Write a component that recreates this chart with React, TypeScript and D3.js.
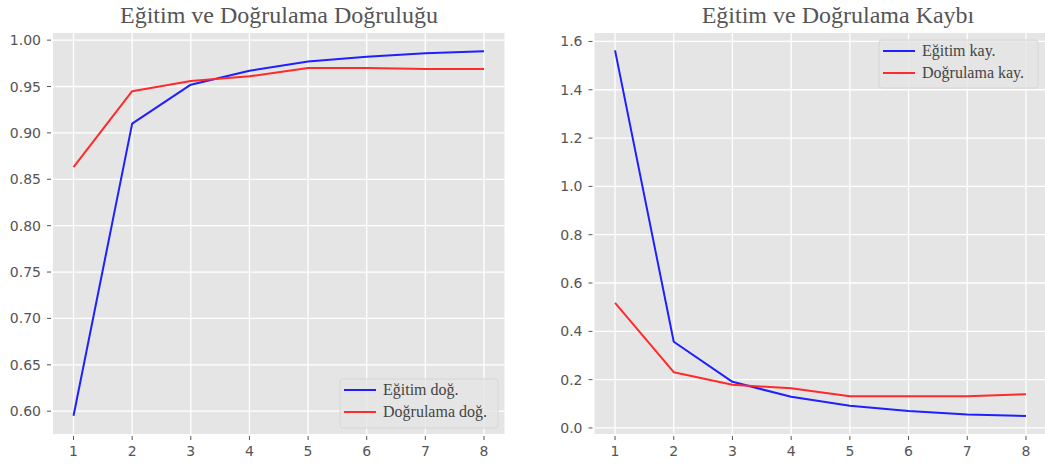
import React from "react";
import * as d3 from "d3";

const epochs = [1, 2, 3, 4, 5, 6, 7, 8];
const trainAcc = [0.595, 0.910, 0.952, 0.967, 0.977, 0.982, 0.986, 0.988];
const valAcc = [0.863, 0.945, 0.956, 0.961, 0.970, 0.970, 0.969, 0.969];
const trainLoss = [1.563, 0.357, 0.191, 0.129, 0.092, 0.070, 0.056, 0.050];
const valLoss = [0.518, 0.231, 0.179, 0.164, 0.131, 0.131, 0.131, 0.140];
const accTicks = [0.6, 0.65, 0.7, 0.75, 0.8, 0.85, 0.9, 0.95, 1.0];
const lossTicks = [0.0, 0.2, 0.4, 0.6, 0.8, 1.0, 1.2, 1.4, 1.6];
const titles = ["Eğitim ve Doğrulama Doğruluğu", "Eğitim ve Doğrulama Kaybı"];
const accLabels = ["Eğitim doğ.", "Doğrulama doğ."];
const lossLabels = ["Eğitim kay.", "Doğrulama kay."];

const W = 1045;
const H = 466;
const TOP = 33;
const BOTTOM = 434;
const SERIF = "'Liberation Serif', 'DejaVu Serif', serif";
const SANS = "'DejaVu Sans', sans-serif";

type PanelProps = {
  x0: number;
  x1: number;
  titleX: number;
  yDomain: [number, number];
  yTicks: number[];
  fmt: (v: number) => string;
  series: number[][];
  labels: string[];
  title: string;
  legend: { x: number; y: number; w: number; h: number };
  clipId: string;
};

function Panel({ x0, x1, titleX, yDomain, yTicks, fmt, series, labels, title, legend, clipId }: PanelProps) {
  const x = d3.scaleLinear().domain([0.65, 8.35]).range([x0, x1]);
  const y = d3.scaleLinear().domain(yDomain).range([BOTTOM, TOP]);
  const line = d3
    .line<number>()
    .x((_, i) => x(epochs[i]))
    .y((d) => y(d));
  const colors = ["#1f1fff", "#ff2a2a"];
  return (
    <g>
      <defs>
        <clipPath id={clipId}>
          <rect x={x0} y={TOP} width={x1 - x0} height={BOTTOM - TOP} />
        </clipPath>
      </defs>
      <rect x={x0} y={TOP} width={x1 - x0} height={BOTTOM - TOP} fill="#e5e5e5" />
      {epochs.map((e) => (
        <line key={"vx" + e} x1={x(e)} x2={x(e)} y1={TOP} y2={BOTTOM} stroke="#ffffff" strokeWidth={1.3} />
      ))}
      {yTicks.map((t) => (
        <line key={"hy" + t} x1={x0} x2={x1} y1={y(t)} y2={y(t)} stroke="#ffffff" strokeWidth={1.3} />
      ))}
      {yTicks.map((t) => (
        <g key={"yt" + t}>
          <line x1={x0 - 6} x2={x0 - 2} y1={y(t)} y2={y(t)} stroke="#555" strokeWidth={1} />
          <text x={x0 - 12} y={y(t)} dy="0.36em" textAnchor="end" fontFamily={SANS} fontSize={14} fill="#555">
            {fmt(t)}
          </text>
        </g>
      ))}
      {epochs.map((e) => (
        <g key={"xt" + e}>
          <line x1={x(e)} x2={x(e)} y1={BOTTOM + 2} y2={BOTTOM + 6} stroke="#555" strokeWidth={1} />
          <text x={x(e)} y={BOTTOM + 22} textAnchor="middle" fontFamily={SANS} fontSize={14} fill="#555">
            {e}
          </text>
        </g>
      ))}
      <g clipPath={`url(#${clipId})`}>
        {series.map((s, i) => (
          <path key={"s" + i} d={line(s) ?? ""} fill="none" stroke={colors[i]} strokeWidth={2} strokeLinejoin="round" />
        ))}
      </g>
      <text x={titleX} y={23} textAnchor="middle" fontFamily={SERIF} fontSize={24} fill="#555">
        {title}
      </text>
      <rect
        x={legend.x}
        y={legend.y}
        width={legend.w}
        height={legend.h}
        rx={3}
        fill="#e5e5e5"
        fillOpacity={0.8}
        stroke="#d6d6d6"
        strokeWidth={1}
      />
      {labels.map((lab, i) => (
        <g key={"lg" + i}>
          <line
            x1={legend.x + 4}
            x2={legend.x + 36}
            y1={legend.y + 11 + i * 22}
            y2={legend.y + 11 + i * 22}
            stroke={colors[i]}
            strokeWidth={2}
          />
          <text x={legend.x + 43} y={legend.y + 11 + i * 22} dy="0.33em" fontFamily={SERIF} fontSize={16} fill="#444">
            {lab}
          </text>
        </g>
      ))}
    </g>
  );
}

export default function App() {
  return (
    <svg
      width={W}
      height={H}
      viewBox={`0 0 ${W} ${H}`}
      style={{ position: "absolute", left: 0, top: 0, background: "#ffffff" }}
    >
      <rect x={0} y={0} width={W} height={H} fill="#ffffff" />
      <Panel
        x0={53}
        x1={504.5}
        titleX={279}
        yDomain={[0.5754, 1.0077]}
        yTicks={accTicks}
        fmt={d3.format(".2f")}
        series={[trainAcc, valAcc]}
        labels={accLabels}
        title={titles[0]}
        legend={{ x: 340, y: 379, w: 158, h: 49 }}
        clipId="c1"
      />
      <Panel
        x0={594.5}
        x1={1046.5}
        titleX={838}
        yDomain={[-0.025, 1.635]}
        yTicks={lossTicks}
        fmt={d3.format(".1f")}
        series={[trainLoss, valLoss]}
        labels={lossLabels}
        title={titles[1]}
        legend={{ x: 879, y: 40, w: 159, h: 48 }}
        clipId="c2"
      />
    </svg>
  );
}
